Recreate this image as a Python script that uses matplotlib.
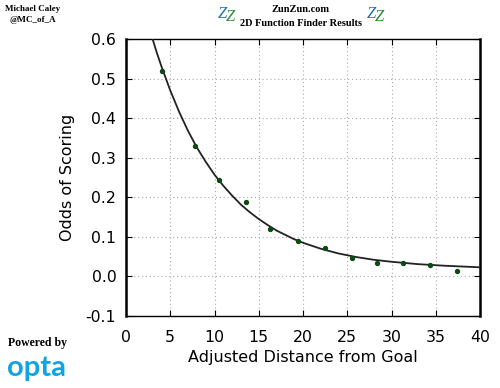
import numpy as np
import matplotlib
matplotlib.use("Agg")
import matplotlib.pyplot as plt

# binned shot data
dist = [4.1, 7.8, 10.5, 13.6, 16.3, 19.4, 22.5, 25.5, 28.4, 31.3, 34.3, 37.4]
odds = [0.52, 0.33, 0.243, 0.188, 0.119, 0.090, 0.072, 0.047, 0.035, 0.033, 0.028, 0.014]

# fitted curve
curve_x = [3, 3.5, 4, 5, 6, 7, 8, 9, 10, 11, 12, 13, 14, 15, 16, 17, 18, 19,
           20, 22, 24, 26, 28, 30, 33, 36, 40]
curve_y = [0.600, 0.564, 0.531, 0.470, 0.416, 0.368, 0.326, 0.290, 0.257,
           0.229, 0.204, 0.181, 0.162, 0.145, 0.130, 0.116, 0.105, 0.094,
           0.085, 0.070, 0.058, 0.049, 0.042, 0.037, 0.031, 0.027, 0.023]

xticks = [0, 5, 10, 15, 20, 25, 30, 35, 40]
yticks = [-0.1, 0.0, 0.1, 0.2, 0.3, 0.4, 0.5, 0.6]

fig = plt.figure(figsize=(5, 3.88), dpi=100)
ax = fig.add_axes([0.252, 0.1856, 0.708, 0.714])

ax.plot(curve_x, curve_y, color="#222222", lw=1.3, zorder=3)
ax.scatter(dist, odds, s=8, color="#0b4a14", zorder=4)

ax.set_xlim(0, 40)
ax.set_ylim(-0.1, 0.6)
ax.set_xticks(xticks)
ax.set_yticks(yticks)
ax.set_yticklabels(["%.1f" % v for v in yticks])
ax.grid(True, linestyle=(0, (1, 2.5)), color="#aaaaaa", lw=0.8)
ax.tick_params(direction="in", top=True, right=True, length=4, labelsize=11.3)
ax.tick_params(axis="x", pad=10)
ax.tick_params(axis="y", pad=7)
for s in ax.spines.values():
    s.set_linewidth(1.0)
ax.spines["left"].set_linewidth(1.8)
ax.spines["right"].set_linewidth(1.8)

ax.set_xlabel("Adjusted Distance from Goal", fontsize=11.5, labelpad=4)
ax.set_ylabel("Odds of Scoring", fontsize=11.5, labelpad=8)

serif = "Liberation Serif"
fig.text(0.602, 0.975, "ZunZun.com", ha="center", va="center",
         family=serif, weight="bold", fontsize=7.5)
fig.text(0.602, 0.94, "2D Function Finder Results", ha="center", va="center",
         family=serif, weight="bold", fontsize=7.5)
for xx in (0.445, 0.743):
    fig.text(xx, 0.965, "Z", ha="center", va="center", family=serif,
             style="italic", color="#1f6fb5", fontsize=12)
    fig.text(xx + 0.016, 0.955, "Z", ha="center", va="center", family=serif,
             style="italic", color="#2a8a3a", fontsize=12)

fig.text(0.066, 0.978, "Michael Caley", ha="center", va="center",
         family=serif, weight="bold", fontsize=6.5)
fig.text(0.066, 0.948, "@MC_of_A", ha="center", va="center",
         family=serif, weight="bold", fontsize=6.5)

fig.text(0.074, 0.115, "Powered by", ha="center", va="center",
         family=serif, weight="bold", fontsize=8.5)
fig.text(0.072, 0.052, "opta", ha="center", va="center",
         family="Lato", weight="bold", color="#12a3e3", fontsize=21)

fig.savefig("out.png", dpi=100)
